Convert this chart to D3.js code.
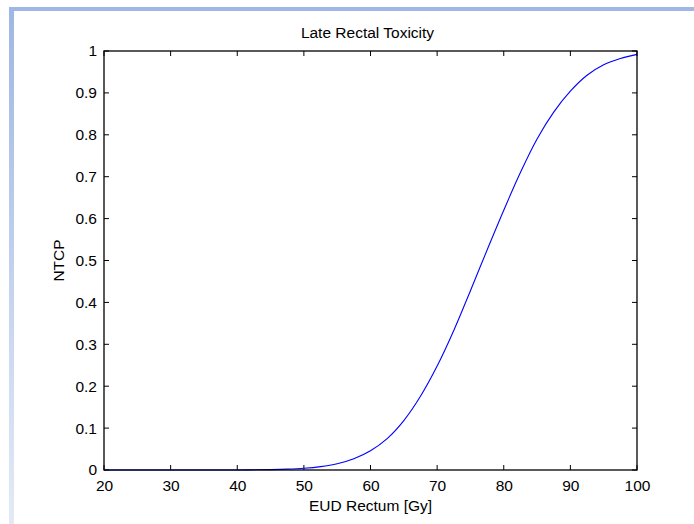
<!DOCTYPE html>
<html>
<head>
<meta charset="utf-8">
<script src="https://cdn.jsdelivr.net/npm/d3@7"></script>
<style>
	body { margin: 0; background: #fff; }
	svg { display: block; font-family: "Liberation Sans", Arial, sans-serif; }
</style>
</head>
<body>
<div id="root"></div>
<script>
// dose values [Gy] and NTCP
const dose = [20, 25, 30, 35, 40, 45, 47.5, 50, 52.5, 55, 57.5, 60, 62.5, 65, 67.5, 70, 72.5, 75, 77.5, 80, 82.5, 85, 87.5, 90, 92.5, 95, 97.5, 100]
const ntcp = [0, 0, 0, 0, 0, 0.001, 0.002, 0.004, 0.008, 0.015, 0.027, 0.046, 0.075, 0.118, 0.176, 0.248, 0.333, 0.428, 0.525, 0.62, 0.71, 0.79, 0.854, 0.904, 0.942, 0.967, 0.982, 0.992]
const xTicks = [20, 30, 40, 50, 60, 70, 80, 90, 100]
const yTicks = [0, 0.1, 0.2, 0.3, 0.4, 0.5, 0.6, 0.7, 0.8, 0.9, 1]

const C = {
	width: 694,
	height: 524,
	left: 104,
	right: 637,
	top: 51,
	bottom: 470,
	tick: 5,
	font: 15.5,
}

const svg = d3.select('#root').append('svg')
	.attr('width', C.width)
	.attr('height', C.height)

// slide frame decoration
const defs = svg.append('defs')
const grad = defs.append('linearGradient')
	.attr('id', 'sideGrad')
	.attr('x1', 0).attr('y1', 0).attr('x2', 0).attr('y2', 1)
grad.append('stop').attr('offset', '0%').attr('stop-color', '#9fb7e5')
grad.append('stop').attr('offset', '100%').attr('stop-color', '#e3eaf6')

svg.append('rect')
	.attr('x', 9).attr('y', 7)
	.attr('width', 5).attr('height', C.height - 7)
	.attr('fill', 'url(#sideGrad)')
svg.append('rect')
	.attr('x', 9).attr('y', 7)
	.attr('width', C.width - 9).attr('height', 4)
	.attr('fill', '#9fb7e5')

const x = d3.scaleLinear().domain([20, 100]).range([C.left, C.right])
const y = d3.scaleLinear().domain([0, 1]).range([C.bottom, C.top])

const g = svg.append('g')

// curve
const data = dose.map((d, i) => ({ d, v: ntcp[i] }))
const line = d3.line()
	.x(p => x(p.d))
	.y(p => y(p.v))
	.curve(d3.curveCatmullRom.alpha(0.5))

// axes: bottom + left with labels, ticks drawn inward separately
const axB = d3.axisBottom(x).tickValues(xTicks).tickSize(0).tickPadding(10).tickFormat(d3.format('d'))
const axL = d3.axisLeft(y).tickValues(yTicks).tickSize(0).tickPadding(7).tickFormat(d => d === 0 || d === 1 ? d : d3.format('.1f')(d))

const gx = g.append('g').attr('transform', `translate(0,${C.bottom})`).call(axB)
const gy = g.append('g').attr('transform', `translate(${C.left},0)`).call(axL)
;[gx, gy].forEach(a => {
	a.select('.domain').remove()
	a.selectAll('text').attr('font-size', C.font).attr('fill', '#000')
		.attr('font-family', '"Liberation Sans", Arial, sans-serif')
})

// inward ticks on all four sides
const ticks = g.append('g').attr('stroke', '#000').attr('stroke-width', 1)
xTicks.forEach(t => {
	ticks.append('line').attr('x1', x(t)).attr('x2', x(t)).attr('y1', C.bottom).attr('y2', C.bottom - C.tick)
	ticks.append('line').attr('x1', x(t)).attr('x2', x(t)).attr('y1', C.top).attr('y2', C.top + C.tick)
})
yTicks.forEach(t => {
	ticks.append('line').attr('y1', y(t)).attr('y2', y(t)).attr('x1', C.left).attr('x2', C.left + C.tick)
	ticks.append('line').attr('y1', y(t)).attr('y2', y(t)).attr('x1', C.right).attr('x2', C.right - C.tick)
})

g.append('path')
	.datum(data)
	.attr('fill', 'none')
	.attr('stroke', '#0000ff')
	.attr('stroke-width', 1.1)
	.attr('d', line)

// box
g.append('rect')
	.attr('x', C.left).attr('y', C.top)
	.attr('width', C.right - C.left).attr('height', C.bottom - C.top)
	.attr('fill', 'none')
	.attr('stroke', '#000')
	.attr('stroke-width', 1.3)

// titles
svg.append('text')
	.attr('x', (C.left + C.right) / 2 - 3)
	.attr('y', 38)
	.attr('text-anchor', 'middle')
	.attr('font-size', C.font)
	.text('Late Rectal Toxicity')

svg.append('text')
	.attr('x', (C.left + C.right) / 2)
	.attr('y', 511)
	.attr('text-anchor', 'middle')
	.attr('font-size', C.font)
	.text('EUD Rectum [Gy]')

svg.append('text')
	.attr('transform', `translate(64,${(C.top + C.bottom) / 2}) rotate(-90)`)
	.attr('text-anchor', 'middle')
	.attr('font-size', C.font)
	.text('NTCP')
</script>
</body>
</html>
